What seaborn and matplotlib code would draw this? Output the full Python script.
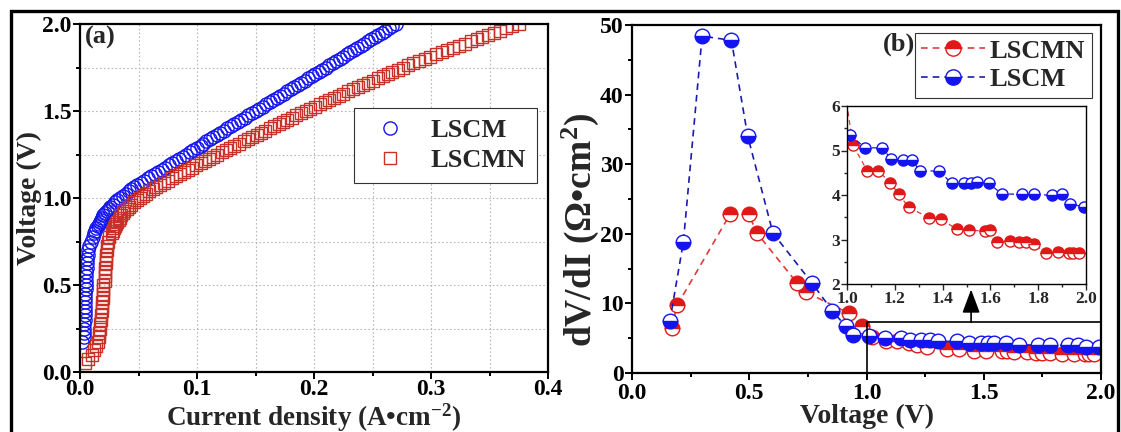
import numpy as np
import pandas as pd
import matplotlib
matplotlib.use('Agg')
import matplotlib.pyplot as plt
import seaborn as sns
from matplotlib.lines import Line2D
from matplotlib.patches import Rectangle
from matplotlib.ticker import MultipleLocator

# ---------------- Panel (a): polarization curves ----------------
V_LSCM = [0.175, 0.200, 0.225, 0.250, 0.275, 0.300, 0.325, 0.350, 0.375, 0.400,
          0.425, 0.450, 0.475, 0.500, 0.525, 0.550, 0.575, 0.600, 0.625, 0.650,
          0.675, 0.700, 0.725, 0.750, 0.775,
          0.8000, 0.8125, 0.8250, 0.8375, 0.8500, 0.8625, 0.8750, 0.8875,
          0.9000, 0.9125, 0.9250, 0.9375, 0.9500, 0.9625, 0.9750, 0.9875,
          1.0000, 1.0125, 1.0250, 1.0375, 1.0500, 1.0625, 1.0750, 1.0875,
          1.1000, 1.1125, 1.1250, 1.1375, 1.1500, 1.1625, 1.1750, 1.1875,
          1.2000, 1.2125, 1.2250, 1.2375, 1.2500, 1.2625, 1.2750, 1.2875,
          1.3000, 1.3125, 1.3250, 1.3375, 1.3500, 1.3625, 1.3750, 1.3875,
          1.4000, 1.4125, 1.4250, 1.4375, 1.4500, 1.4625, 1.4750, 1.4875,
          1.5000, 1.5125, 1.5250, 1.5375, 1.5500, 1.5625, 1.5750, 1.5875,
          1.6000, 1.6125, 1.6250, 1.6375, 1.6500, 1.6625, 1.6750, 1.6875,
          1.7000, 1.7125, 1.7250, 1.7375, 1.7500, 1.7625, 1.7750, 1.7875,
          1.8000, 1.8125, 1.8250, 1.8375, 1.8500, 1.8625, 1.8750, 1.8875,
          1.9000, 1.9125, 1.9250, 1.9375, 1.9500, 1.9625, 1.9750, 1.9875,
          2.0000]
J_LSCM = [0.002, 0.003, 0.003, 0.003, 0.003, 0.004, 0.004, 0.004, 0.004, 0.004,
          0.004, 0.004, 0.005, 0.005, 0.005, 0.005, 0.005, 0.006, 0.006, 0.006,
          0.007, 0.007, 0.008, 0.009, 0.011,
          0.0120, 0.0130, 0.0140, 0.0150, 0.0160, 0.0170, 0.0180, 0.0190,
          0.0200, 0.0215, 0.0230, 0.0245, 0.0260, 0.0280, 0.0300, 0.0320,
          0.0340, 0.0365, 0.0390, 0.0415, 0.0440, 0.0465, 0.0490, 0.0520,
          0.0550, 0.0580, 0.0610, 0.0640, 0.0670, 0.0700, 0.0730, 0.0760,
          0.0790, 0.0820, 0.0850, 0.0880, 0.0910, 0.0940, 0.0970, 0.1000,
          0.1030, 0.1055, 0.1080, 0.1110, 0.1140, 0.1170, 0.1200, 0.1230,
          0.1260, 0.1290, 0.1320, 0.1350, 0.1380, 0.1410, 0.1440, 0.1470,
          0.1500, 0.1530, 0.1560, 0.1590, 0.1620, 0.1650, 0.1680, 0.1710,
          0.1740, 0.1770, 0.1800, 0.1830, 0.1860, 0.1890, 0.1920, 0.1950,
          0.1980, 0.2010, 0.2040, 0.2070, 0.2100, 0.2130, 0.2160, 0.2190,
          0.2220, 0.2250, 0.2280, 0.2310, 0.2340, 0.2370, 0.2400, 0.2430,
          0.2460, 0.2490, 0.2520, 0.2550, 0.2580, 0.2610, 0.2640, 0.2670,
          0.2700]

V_LSCMN = [0.050, 0.075, 0.100, 0.125, 0.150, 0.175, 0.200, 0.225, 0.250, 0.275,
           0.300, 0.325, 0.350, 0.375, 0.400, 0.425, 0.450, 0.475, 0.500, 0.525,
           0.550, 0.575, 0.600, 0.625, 0.650, 0.675, 0.700, 0.725, 0.750, 0.775,
           0.8000, 0.8125, 0.8250, 0.8375, 0.8500, 0.8625, 0.8750, 0.8875,
           0.9000, 0.9125, 0.9250, 0.9375, 0.9500, 0.9625, 0.9750, 0.9875,
           1.0000, 1.0125, 1.0250, 1.0375, 1.0500, 1.0625, 1.0750, 1.0875,
           1.1000, 1.1125, 1.1250, 1.1375, 1.1500, 1.1625, 1.1750, 1.1875,
           1.2000, 1.2125, 1.2250, 1.2375, 1.2500, 1.2625, 1.2750, 1.2875,
           1.3000, 1.3125, 1.3250, 1.3375, 1.3500, 1.3625, 1.3750, 1.3875,
           1.4000, 1.4125, 1.4250, 1.4375, 1.4500, 1.4625, 1.4750, 1.4875,
           1.5000, 1.5125, 1.5250, 1.5375, 1.5500, 1.5625, 1.5750, 1.5875,
           1.6000, 1.6125, 1.6250, 1.6375, 1.6500, 1.6625, 1.6750, 1.6875,
           1.7000, 1.7125, 1.7250, 1.7375, 1.7500, 1.7625, 1.7750, 1.7875,
           1.8000, 1.8125, 1.8250, 1.8375, 1.8500, 1.8625, 1.8750, 1.8875,
           1.9000, 1.9125, 1.9250, 1.9375, 1.9500, 1.9625, 1.9750, 1.9875,
           2.0000]
J_LSCMN = [0.004, 0.007, 0.010, 0.012, 0.014, 0.015, 0.016, 0.016, 0.017, 0.017,
           0.018, 0.018, 0.019, 0.019, 0.019, 0.020, 0.020, 0.020, 0.020, 0.021,
           0.021, 0.021, 0.021, 0.022, 0.022, 0.022, 0.023, 0.023, 0.024, 0.025,
           0.0270, 0.0280, 0.0290, 0.0300, 0.0310, 0.0320, 0.0330, 0.0340,
           0.0350, 0.0365, 0.0380, 0.0400, 0.0420, 0.0440, 0.0460, 0.0485,
           0.0510, 0.0535, 0.0560, 0.0590, 0.0620, 0.0650, 0.0680, 0.0715,
           0.0750, 0.0785, 0.0820, 0.0855, 0.0890, 0.0925, 0.0960, 0.0995,
           0.1030, 0.1065, 0.1100, 0.1135, 0.1170, 0.1210, 0.1250, 0.1285,
           0.1320, 0.1360, 0.1400, 0.1435, 0.1470, 0.1510, 0.1550, 0.1585,
           0.1620, 0.1660, 0.1700, 0.1735, 0.1770, 0.1810, 0.1850, 0.1890,
           0.1930, 0.1970, 0.2010, 0.2050, 0.2090, 0.2130, 0.2170, 0.2210,
           0.2250, 0.2290, 0.2330, 0.2375, 0.2420, 0.2460, 0.2500, 0.2545,
           0.2590, 0.2630, 0.2670, 0.2715, 0.2760, 0.2805, 0.2850, 0.2900,
           0.2950, 0.2995, 0.3040, 0.3090, 0.3140, 0.3190, 0.3240, 0.3290,
           0.3340, 0.3390, 0.3440, 0.3490, 0.3540, 0.3590, 0.3640, 0.3695,
           0.3750]

# ---------------- Panel (b): dV/dI vs voltage ----------------
Vb_LSCM = [0.161, 0.219, 0.299, 0.424, 0.493, 0.601, 0.766, 0.855, 0.912, 0.943,
           1.011, 1.077, 1.148, 1.185, 1.234, 1.272, 1.305, 1.384, 1.439, 1.489,
           1.517, 1.545, 1.593, 1.649, 1.733, 1.781, 1.858, 1.900, 1.935, 1.990]
R_LSCM = [7.4, 18.8, 48.4, 47.8, 34.1, 20.1, 13.0, 8.9, 6.7, 5.5,
          5.35, 5.06, 5.06, 4.80, 4.79, 4.79, 4.54, 4.54, 4.26, 4.26,
          4.28, 4.30, 4.26, 4.02, 4.02, 4.02, 3.99, 4.02, 3.79, 3.74]

Vb_LSCMN = [0.169, 0.192, 0.418, 0.498, 0.533, 0.702, 0.743, 0.924, 0.981, 1.025,
            1.085, 1.130, 1.181, 1.216, 1.259, 1.343, 1.394, 1.460, 1.510, 1.579,
            1.599, 1.628, 1.684, 1.721, 1.749, 1.781, 1.833, 1.884, 1.930, 1.947,
            1.972]
R_LSCMN = [6.5, 9.7, 22.8, 22.8, 20.1, 13.0, 11.6, 8.6, 6.7, 5.12,
           4.54, 4.54, 4.28, 4.02, 3.72, 3.49, 3.45, 3.23, 3.21, 3.19,
           3.21, 2.95, 2.97, 2.94, 2.94, 2.91, 2.69, 2.71, 2.69, 2.69,
           2.69]

labels_a = ["LSCM", "LSCMN"]
labels_b = ["LSCMN", "LSCM"]

BLUE = "#1414f0"
RED = "#e01818"
SQ_EDGE = "#c83028"
BLUE_LINE = "#1a1ab4"
RED_LINE = "#e03a3a"

sns.set_style("ticks")
plt.rcParams['font.family'] = ['Liberation Serif', 'DejaVu Serif']
plt.rcParams['font.weight'] = 'bold'
plt.rcParams['axes.labelweight'] = 'bold'
plt.rcParams['mathtext.fontset'] = 'custom'
plt.rcParams['mathtext.rm'] = 'Liberation Serif:bold'
plt.rcParams['mathtext.bf'] = 'Liberation Serif:bold'
plt.rcParams['mathtext.it'] = 'Liberation Serif:bold:italic'

W, H = 1121, 432
fig = plt.figure(figsize=(W / 100, H / 100), dpi=100)
axa = fig.add_axes([80 / W, 60 / H, 468 / W, 348 / H])
axb = fig.add_axes([632 / W, 59 / H, 469 / W, 348 / H])

# ---- panel (a)
dfa1 = pd.DataFrame({"J": J_LSCM, "V": V_LSCM})
dfa2 = pd.DataFrame({"J": J_LSCMN, "V": V_LSCMN})
sns.lineplot(data=dfa1, x="J", y="V", estimator=None, sort=False, ax=axa,
             linestyle="none", marker="o", markersize=9.5, color=BLUE,
             markerfacecolor="none", markeredgecolor=BLUE, markeredgewidth=1.0)
sns.lineplot(data=dfa2, x="J", y="V", estimator=None, sort=False, ax=axa,
             linestyle="none", marker="s", markersize=8.5, color=SQ_EDGE,
             markerfacecolor="none", markeredgecolor=SQ_EDGE, markeredgewidth=1.0)
axa.set_xlim(0, 0.4)
axa.set_ylim(0, 2.0)
axa.xaxis.set_major_locator(MultipleLocator(0.1))
axa.xaxis.set_minor_locator(MultipleLocator(0.05))
axa.yaxis.set_major_locator(MultipleLocator(0.5))
axa.yaxis.set_minor_locator(MultipleLocator(0.25))
axa.set_axisbelow(True)
axa.grid(which="both", color="#b8b8b8", linestyle=(0, (1.5, 2.0)), linewidth=0.8)
axa.set_xlabel(r"Current density (A•cm$^{\mathbf{-2}}$)", fontsize=19.5, labelpad=1)
axa.set_ylabel("Voltage (V)", fontsize=20, labelpad=0)
axa.text(0.01, 0.962, "(a)", transform=axa.transAxes, fontsize=19,
         fontweight="bold", ha="left", va="center")
la = axa.get_lines()
axa.legend(handles=[la[0], la[1]], labels=labels_a, loc="upper right",
           bbox_to_anchor=(0.976, 0.759), fontsize=19, frameon=True,
           fancybox=False, edgecolor="#333333", framealpha=1,
           borderpad=0.4, handlelength=1.9, handletextpad=0.6,
           labelspacing=0.25, borderaxespad=0.0)
axa.get_legend().get_frame().set_linewidth(0.8)

# ---- panel (b)
dfb1 = pd.DataFrame({"V": Vb_LSCMN, "R": R_LSCMN})
dfb2 = pd.DataFrame({"V": Vb_LSCM, "R": R_LSCM})


def draw_b(ax, ms, lw):
    sns.lineplot(data=dfb1, x="V", y="R", estimator=None, sort=False, ax=ax,
                 color=RED_LINE, linestyle=(0, (4, 3)), linewidth=lw,
                 marker="o", markersize=ms, fillstyle="top",
                 markerfacecolor=RED, markerfacecoloralt="white",
                 markeredgecolor=RED, markeredgewidth=1.0)
    sns.lineplot(data=dfb2, x="V", y="R", estimator=None, sort=False, ax=ax,
                 color=BLUE_LINE, linestyle=(0, (4, 3)), linewidth=lw,
                 marker="o", markersize=ms, fillstyle="bottom",
                 markerfacecolor=BLUE, markerfacecoloralt="white",
                 markeredgecolor=BLUE, markeredgewidth=1.0)


draw_b(axb, 10.5, 1.2)
axb.set_xlim(0, 2.0)
axb.set_ylim(0, 50)
axb.xaxis.set_major_locator(MultipleLocator(0.5))
axb.xaxis.set_minor_locator(MultipleLocator(0.25))
axb.yaxis.set_major_locator(MultipleLocator(10))
axb.yaxis.set_minor_locator(MultipleLocator(5))
axb.set_xlabel("Voltage (V)", fontsize=20, labelpad=0)
axb.set_ylabel(r"dV/dI ($\mathbf{\Omega}$•cm$^{\mathbf{2}}$)", fontsize=27)
axb.yaxis.set_label_coords(-0.066, 0.41)
axb.text(0.535, 0.945, "(b)", transform=axb.transAxes, fontsize=19,
         fontweight="bold", ha="left", va="center")
lb = axb.get_lines()
axb.legend(handles=[lb[0], lb[1]], labels=labels_b, loc="upper right",
           bbox_to_anchor=(0.981, 0.978), fontsize=19, frameon=True,
           fancybox=False, edgecolor="#333333", framealpha=1,
           borderpad=0.25, handlelength=2.4, handletextpad=0.2,
           labelspacing=0.2, borderaxespad=0.0, markerscale=1.05)
axb.get_legend().get_frame().set_linewidth(0.8)

# zoom box and arrow
axb.add_patch(Rectangle((1.0, 0.0), 1.0, 7.3, fill=False, edgecolor="black",
                        linewidth=1.2, zorder=5, clip_on=False))
axb.annotate("", xy=(1.446, 12.0), xytext=(1.446, 7.3),
             arrowprops=dict(arrowstyle="-|>,head_length=0.8,head_width=0.3",
                             color="black", lw=1.2, mutation_scale=18,
                             shrinkA=0, shrinkB=0), zorder=6)

# inset
axi = fig.add_axes([847 / W, 148 / H, 239 / W, 178 / H])
draw_b(axi, 8, 0.9)
axi.set_xlim(1.0, 2.0)
axi.set_ylim(2, 6)
axi.xaxis.set_major_locator(MultipleLocator(0.2))
axi.xaxis.set_minor_locator(MultipleLocator(0.1))
axi.yaxis.set_major_locator(MultipleLocator(1))
axi.yaxis.set_minor_locator(MultipleLocator(0.5))
axi.set_xlabel("")
axi.set_ylabel("")
axi.tick_params(which="both", direction="out", labelsize=12.5, width=1.0, pad=1)
axi.tick_params(which="major", length=4)
axi.tick_params(which="minor", length=2.5)
for s in axi.spines.values():
    s.set_linewidth(1.0)
    s.set_color("black")
for lab in axi.get_xticklabels() + axi.get_yticklabels():
    lab.set_fontweight("bold")

for ax in (axa, axb):
    ax.tick_params(which="both", direction="out", labelsize=17, width=1.4, pad=1,
                   colors="black")
    ax.tick_params(which="major", length=5)
    ax.tick_params(which="minor", length=3)
    for s in ax.spines.values():
        s.set_linewidth(1.6)
        s.set_color("black")
    for lab in ax.get_xticklabels() + ax.get_yticklabels():
        lab.set_fontweight("bold")
axa.tick_params(axis="x", which="both", pad=0)
axb.tick_params(axis="x", which="both", pad=2)

# outer frame of the figure
xl, xr, yt = 10.5 / W, 1117.5 / W, 1 - 10.5 / H
fig.add_artist(Line2D([xl, xl, xr, xr], [0, yt, yt, 0], transform=fig.transFigure,
                      color="black", linewidth=2.4, solid_joinstyle="miter"))

fig.savefig("out.png", dpi=100)
